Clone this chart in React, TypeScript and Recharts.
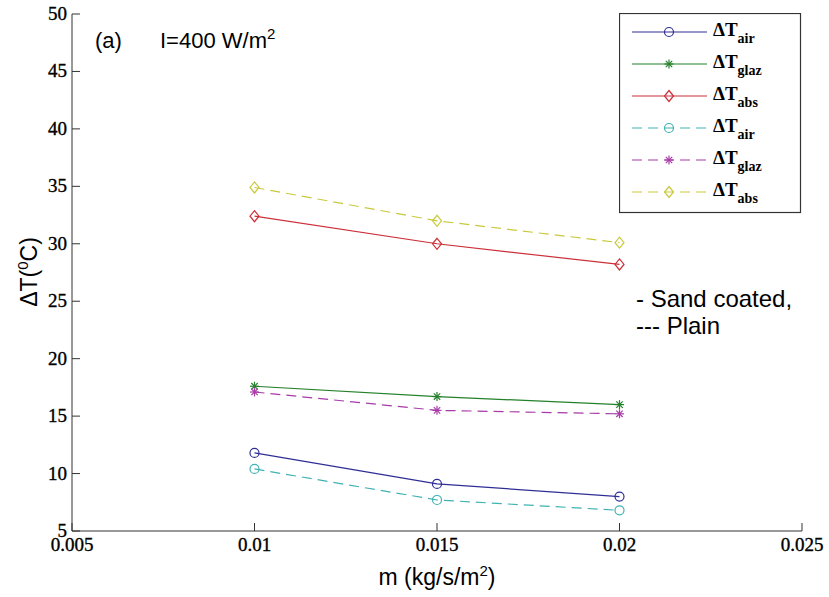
import React from 'react';
import { LineChart, Line, XAxis, YAxis, Legend } from 'recharts';

// mass flow rate (kg/s/m2)
const massFlow = [0.01, 0.015, 0.02];

// sand coated absorber
const airSand = [11.8, 9.1, 8.0];
const glazSand = [17.6, 16.7, 16.0];
const absSand = [32.4, 30.0, 28.2];

// plain absorber
const airPlain = [10.4, 7.7, 6.8];
const glazPlain = [17.1, 15.5, 15.2];
const absPlain = [34.9, 32.0, 30.1];

const xTicks = [0.005, 0.01, 0.015, 0.02, 0.025];
const yTicks = [5, 10, 15, 20, 25, 30, 35, 40, 45, 50];

const data = massFlow.map((m, i) => ({
  m,
  airSand: airSand[i],
  glazSand: glazSand[i],
  absSand: absSand[i],
  airPlain: airPlain[i],
  glazPlain: glazPlain[i],
  absPlain: absPlain[i],
}));

type MarkerType = 'circle' | 'star' | 'diamond';

const series: { key: string; sub: string; color: string; dash?: string; marker: MarkerType }[] = [
  { key: 'airSand', sub: 'air', color: '#2e2e96', marker: 'circle' },
  { key: 'glazSand', sub: 'glaz', color: '#24802a', marker: 'star' },
  { key: 'absSand', sub: 'abs', color: '#cc2f38', marker: 'diamond' },
  { key: 'airPlain', sub: 'air', color: '#3fb2b2', dash: '10 6', marker: 'circle' },
  { key: 'glazPlain', sub: 'glaz', color: '#a73aa7', dash: '10 6', marker: 'star' },
  { key: 'absPlain', sub: 'abs', color: '#c9c93c', dash: '10 6', marker: 'diamond' },
];

const AXIS = '#333';
const SERIF = 'Liberation Serif';
const SANS = 'Liberation Sans';

function Marker({ type, cx, cy, color }: { type: MarkerType; cx: number; cy: number; color: string }) {
  if (type === 'circle') {
    return <circle cx={cx} cy={cy} r={4.5} fill="none" stroke={color} strokeWidth={1.2} />;
  }
  if (type === 'diamond') {
    const pts = `${cx},${cy - 5.5} ${cx + 4.5},${cy} ${cx},${cy + 5.5} ${cx - 4.5},${cy}`;
    return <polygon points={pts} fill="none" stroke={color} strokeWidth={1.2} />;
  }
  const r = 4.5;
  const d = 3.2;
  return (
    <g stroke={color} strokeWidth={1.2}>
      <line x1={cx - r} y1={cy} x2={cx + r} y2={cy} />
      <line x1={cx} y1={cy - r} x2={cx} y2={cy + r} />
      <line x1={cx - d} y1={cy - d} x2={cx + d} y2={cy + d} />
      <line x1={cx - d} y1={cy + d} x2={cx + d} y2={cy - d} />
    </g>
  );
}

const renderLegend = () => (
  <svg width={183} height={201} style={{ display: 'block' }}>
    <rect x={0.5} y={0.5} width={181} height={199} fill="#fff" stroke={AXIS} strokeWidth={1.2} />
    {series.map((s, i) => {
      const y = 19 + i * 32;
      return (
        <g key={s.key}>
          <line x1={13} y1={y} x2={88} y2={y} stroke={s.color} strokeWidth={1.2} strokeDasharray={s.dash} />
          <Marker type={s.marker} cx={50} cy={y} color={s.color} />
          <text x={94} y={y + 4} fontFamily={SERIF} fontWeight="bold" fontSize={19} fill="#000">
            ΔT
            <tspan dy={7} fontSize={14}>{s.sub}</tspan>
          </text>
        </g>
      );
    })}
  </svg>
);

const tickText = { fontFamily: SERIF, fontSize: 19, fill: '#000', stroke: '#000', strokeWidth: 0.35 };

const XTick = (p: any) => (
  <text x={p.x} y={p.y + 13} textAnchor="middle" style={tickText}>
    {String(p.payload.value)}
  </text>
);

const YTick = (p: any) => (
  <text x={p.x} y={p.y + 6} textAnchor="end" style={tickText}>
    {String(p.payload.value)}
  </text>
);

export default function App() {
  return (
    <div style={{ position: 'absolute', left: 0, top: 0, width: 829, height: 597, background: '#fff' }}>
      <LineChart width={829} height={597} data={data} margin={{ top: 14, right: 27, bottom: 0, left: 0 }}>
        <XAxis
          type="number"
          dataKey="m"
          domain={[0.005, 0.025]}
          ticks={xTicks}
          interval={0}
          height={66}
          stroke={AXIS}
          tickSize={-8}
          tickMargin={15}
          tick={XTick}
        />
        <XAxis
          xAxisId="top"
          orientation="top"
          type="number"
          dataKey="m"
          domain={[0.005, 0.025]}
          ticks={xTicks}
          interval={0}
          height={0}
          stroke={AXIS}
          tickSize={-8}
          tick={false}
        />
        <YAxis
          type="number"
          domain={[5, 50]}
          ticks={yTicks}
          interval={0}
          width={72}
          stroke={AXIS}
          tickSize={-8}
          tickMargin={13}
          tick={YTick}
        />
        <YAxis
          yAxisId="right"
          orientation="right"
          type="number"
          domain={[5, 50]}
          ticks={yTicks}
          interval={0}
          width={0}
          stroke={AXIS}
          tickSize={-8}
          tick={false}
        />
        {series.map((s) => (
          <Line
            key={s.key}
            type="linear"
            dataKey={s.key}
            stroke={s.color}
            strokeWidth={1.2}
            strokeDasharray={s.dash}
            isAnimationActive={false}
            dot={(p: any) => (
              <Marker key={`${s.key}-${p.index}`} type={s.marker} cx={p.cx} cy={p.cy} color={s.color} />
            )}
            activeDot={false}
          />
        ))}
        <Legend
          layout="vertical"
          align="center"
          verticalAlign="middle"
          wrapperStyle={{ position: 'absolute', left: 619, top: 13, width: 183, height: 201 }}
          content={renderLegend}
        />
      </LineChart>
      <svg
        width={829}
        height={597}
        style={{ position: 'absolute', left: 0, top: 0, pointerEvents: 'none' }}
      >
        <text x={95} y={48} fontFamily={SANS} fontSize={22} fill="#000">(a)</text>
        <text x={160} y={48} fontFamily={SANS} fontSize={22} fill="#000">
          I=400 W/m<tspan dy={-9} fontSize={15}>2</tspan>
        </text>
        <text x={636} y={307} fontFamily={SANS} fontSize={24} fill="#000">- Sand coated,</text>
        <text x={636} y={334} fontFamily={SANS} fontSize={24} fill="#000">--- Plain</text>
        <text
          x={0}
          y={0}
          transform="translate(37, 272) rotate(-90)"
          textAnchor="middle"
          fontFamily={SANS}
          fontSize={23}
          fill="#000"
        >
          ΔT(<tspan dy={-9} fontSize={15}>0</tspan>
          <tspan dy={9}>C)</tspan>
        </text>
        <text x={437} y={585} textAnchor="middle" fontFamily={SANS} fontSize={23} fill="#000">
          m (kg/s/m<tspan dy={-9} fontSize={15}>2</tspan>
          <tspan dy={9}>)</tspan>
        </text>
      </svg>
    </div>
  );
}
